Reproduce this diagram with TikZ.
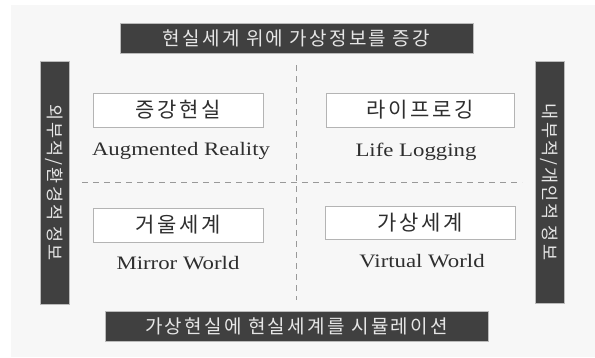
\documentclass[tikz,border=0pt]{standalone}
\usepackage{fontspec}
\newfontfamily\kr{Noto Sans CJK KR}[LetterSpace=12]
\setmainfont{Liberation Serif}[FakeStretch=1.2]
\definecolor{bg}{HTML}{F7F7F7}
\definecolor{barfill}{HTML}{404040}
\definecolor{barline}{HTML}{BBBBBB}
\definecolor{bartext}{HTML}{E6E6E6}
\definecolor{boxline}{HTML}{B4B4B4}
\definecolor{engtext}{HTML}{2E2E2E}
\tikzset{
  bar/.style={fill=barfill,draw=barline,line width=0.8pt,inner sep=0pt,text=bartext,font=\kr\fontsize{19}{19}\selectfont},
  vbar/.style={bar,rotate=-90,font=\kr\fontsize{17.5}{17.5}\selectfont},
  kbox/.style={fill=white,draw=boxline,line width=0.8pt,inner sep=0pt,minimum height=34pt,text=engtext,font=\kr\fontsize{21}{21}\selectfont},
  eng/.style={text=engtext,inner sep=0pt,font=\fontsize{19}{19}\selectfont},
  divider/.style={draw=gray!80,line width=1pt,dash pattern=on 6pt off 5pt}
}
\begin{document}
\begin{tikzpicture}[x=1pt,y=-1pt]
\useasboundingbox (0,0) rectangle (595,357);
\fill[white] (0,0) rectangle (595,357);
\fill[bg] (11,5) rectangle (595,357);
% dividers
\coordinate (vtop) at (296,65);
\coordinate (vbot) at (296,300);
\coordinate (hleft) at (82,182);
\coordinate (hright) at (522,182);
\draw[divider] (vtop) -- (vbot);
\draw[divider] (hleft) -- (hright);
% bars
\node[bar,minimum width=353pt,minimum height=30pt] (top) at (296.5,38) {현실세계\ 위에\ 가상정보를\ 증강};
\node[bar,minimum width=383pt,minimum height=30pt] (bottom) at (296.5,326) {가상현실에\ 현실세계를\ 시뮬레이션};
\node[vbar,minimum width=243pt,minimum height=29pt] (left) at (54.5,182.5) {외부적/환경적 정보};
\node[vbar,minimum width=242pt,minimum height=29pt] (right) at (549.5,182) {내부적/개인적 정보};
% quadrant boxes
\node[kbox,minimum width=170pt] (ar) at (178,110) {증강현실};
\node[kbox,minimum width=188pt] (ll) at (420,110) {라이프로깅};
\node[kbox,minimum width=170pt] (mw) at (178,225) {거울세계};
\node[kbox,minimum width=190pt,minimum height=33pt] (vw) at (420,222.5) {가상세계};
% english labels
\node[eng] (arl) at (181,151) {Augmented Reality};
\node[eng] (lll) at (416,152) {Life Logging};
\node[eng] (mwl) at (178,263) {Mirror World};
\node[eng] (vwl) at (422,261) {Virtual World};
\end{tikzpicture}
\end{document}
